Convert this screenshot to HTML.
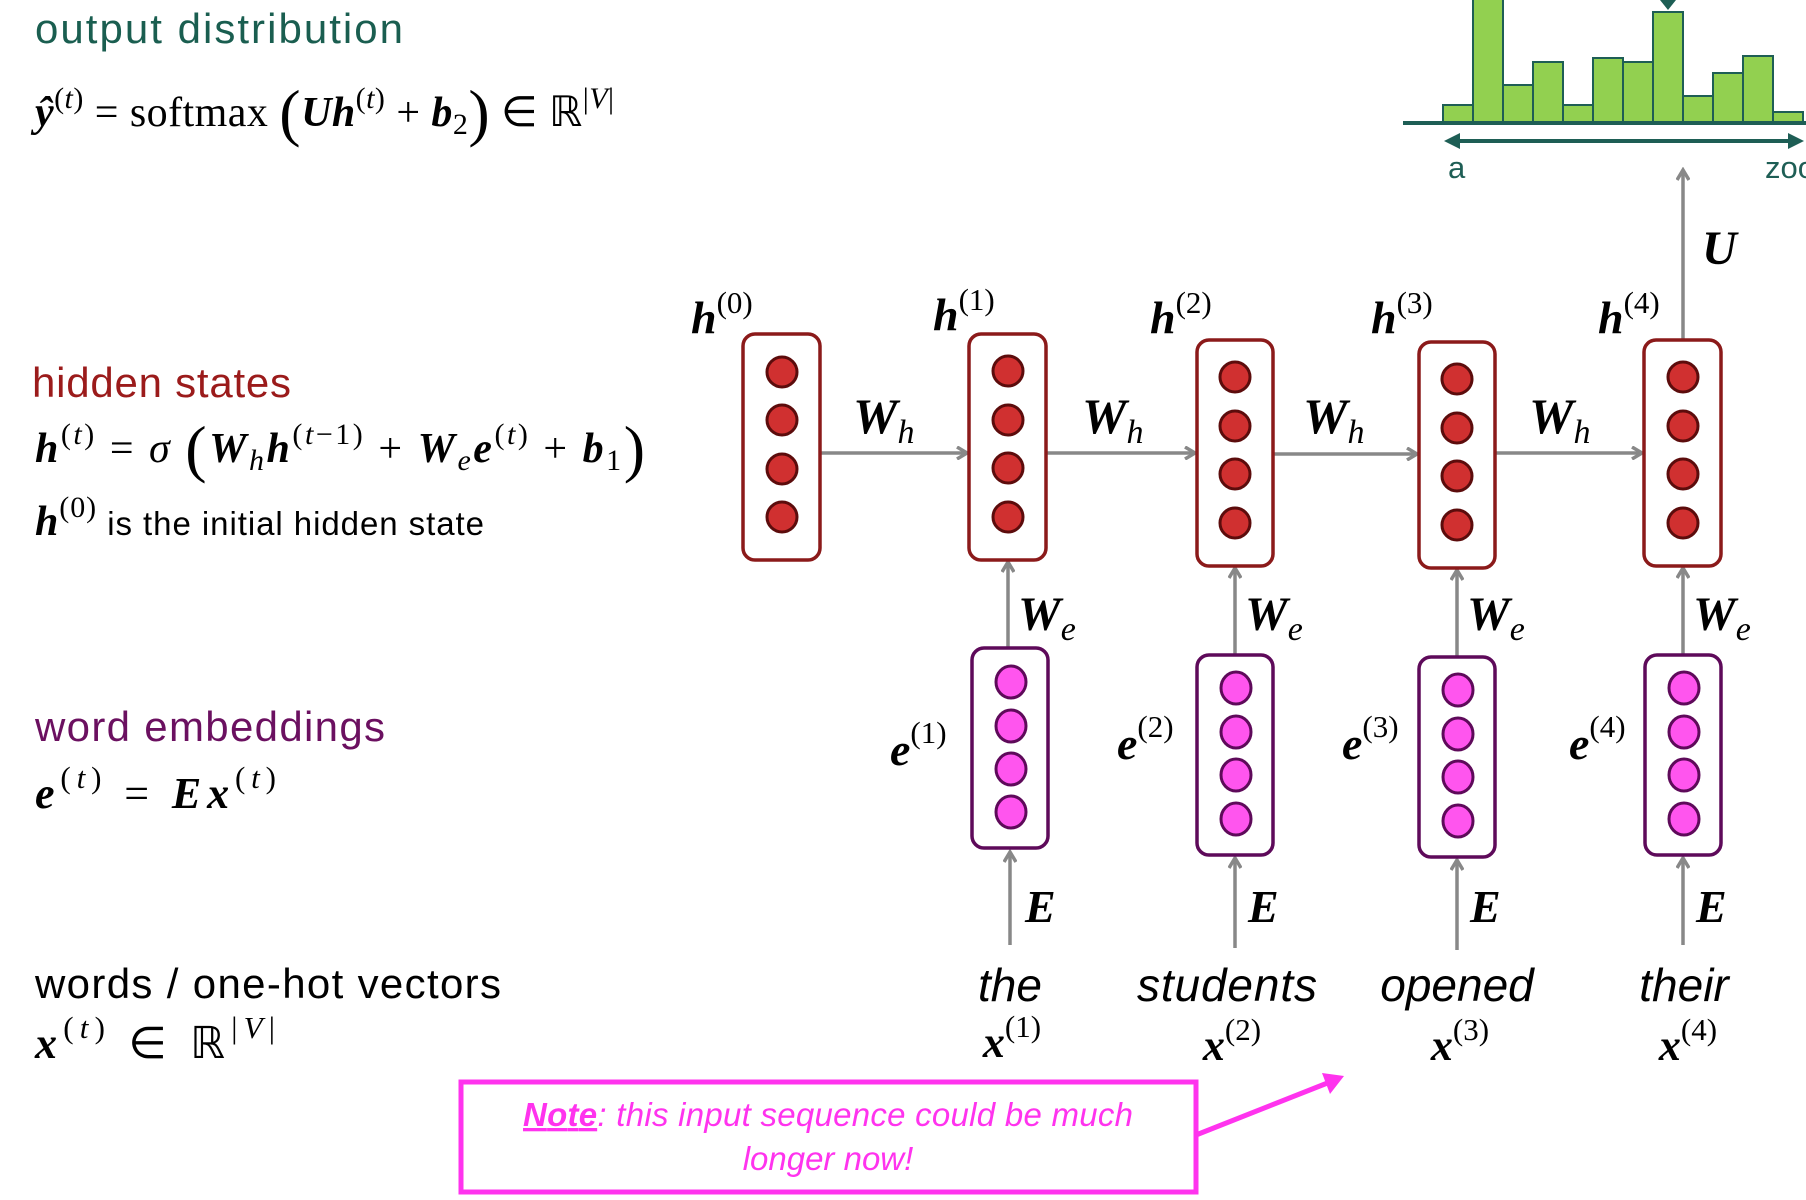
<!DOCTYPE html>
<html><head><meta charset="utf-8"><style>
html,body{margin:0;padding:0;background:#fff;width:1806px;height:1200px;overflow:hidden}
svg{display:block}
.m{font-family:"Liberation Serif",serif;font-weight:bold;font-style:italic}
.r{font-family:"Liberation Serif",serif;font-weight:normal;font-style:normal}
.ri{font-family:"Liberation Serif",serif;font-weight:normal;font-style:italic}
.s{font-family:"Liberation Sans",sans-serif}
</style></head><body>
<svg width="1806" height="1200" viewBox="0 0 1806 1200" xmlns="http://www.w3.org/2000/svg">
<defs>
<marker id="ah" markerWidth="14" markerHeight="14" refX="11" refY="7" orient="auto" markerUnits="userSpaceOnUse">
<path d="M1,1 L11,7 L1,13" fill="none" stroke="#888" stroke-width="3.5"/>
</marker>
</defs>

<!-- left text -->
<text x="35" y="43" class="s" font-size="42" fill="#1a5e50" textLength="368">output distribution</text>
<text x="35" y="126" font-size="42" textLength="579"><tspan class="m">ŷ</tspan><tspan class="r" font-size="30" dy="-18">(</tspan><tspan class="ri" font-size="30">t</tspan><tspan class="r" font-size="30">)</tspan><tspan class="r" dy="18"> = softmax </tspan><tspan class="r" font-size="64" dy="8">(</tspan><tspan class="m" dy="-8">Uh</tspan><tspan class="r" font-size="30" dy="-18">(</tspan><tspan class="ri" font-size="30">t</tspan><tspan class="r" font-size="30">)</tspan><tspan class="r" dy="18"> + </tspan><tspan class="m">b</tspan><tspan class="r" font-size="30" dy="8">2</tspan><tspan class="r" font-size="64" dy="0">)</tspan><tspan class="r" dy="-8"> ∈ ℝ</tspan><tspan class="r" font-size="30" dy="-18">|</tspan><tspan class="ri" font-size="30">V</tspan><tspan class="r" font-size="30">|</tspan></text>

<text x="32" y="397" class="s" font-size="42" fill="#9b1b1b" textLength="259">hidden states</text>
<text x="35" y="462" font-size="42" textLength="610"><tspan class="m">h</tspan><tspan class="r" font-size="30" dy="-18">(</tspan><tspan class="ri" font-size="30">t</tspan><tspan class="r" font-size="30">)</tspan><tspan class="r" dy="18"> = </tspan><tspan class="ri">σ </tspan><tspan class="r" font-size="64" dy="8">(</tspan><tspan class="m" dy="-8">W</tspan><tspan class="ri" font-size="30" dy="8">h</tspan><tspan class="m" dy="-8">h</tspan><tspan class="r" font-size="30" dy="-18">(</tspan><tspan class="ri" font-size="30">t</tspan><tspan class="r" font-size="30">−1)</tspan><tspan class="r" dy="18"> + </tspan><tspan class="m">W</tspan><tspan class="ri" font-size="30" dy="8">e</tspan><tspan class="m" dy="-8">e</tspan><tspan class="r" font-size="30" dy="-18">(</tspan><tspan class="ri" font-size="30">t</tspan><tspan class="r" font-size="30">)</tspan><tspan class="r" dy="18"> + </tspan><tspan class="m">b</tspan><tspan class="r" font-size="30" dy="8">1</tspan><tspan class="r" font-size="64" dy="0">)</tspan></text>
<text x="35" y="535" font-size="42" textLength="449"><tspan class="m">h</tspan><tspan class="r" font-size="30" dy="-18">(0)</tspan><tspan class="s" font-size="33" dy="18"> is the initial hidden state</tspan></text>

<text x="35" y="741" class="s" font-size="42" fill="#6b1060" textLength="350">word embeddings</text>
<text x="35" y="808" font-size="44" textLength="241"><tspan class="m">e</tspan><tspan class="r" font-size="31" dy="-20">(</tspan><tspan class="ri" font-size="31">t</tspan><tspan class="r" font-size="31">)</tspan><tspan class="r" dy="20"> = </tspan><tspan class="m">Ex</tspan><tspan class="r" font-size="31" dy="-20">(</tspan><tspan class="ri" font-size="31">t</tspan><tspan class="r" font-size="31">)</tspan></text>

<text x="35" y="998" class="s" font-size="42" fill="#000" textLength="466">words / one-hot vectors</text>
<text x="35" y="1058" font-size="44" textLength="240"><tspan class="m">x</tspan><tspan class="r" font-size="31" dy="-20">(</tspan><tspan class="ri" font-size="31">t</tspan><tspan class="r" font-size="31">)</tspan><tspan class="r" dy="20"> ∈ ℝ</tspan><tspan class="r" font-size="31" dy="-20">|</tspan><tspan class="ri" font-size="31">V</tspan><tspan class="r" font-size="31">|</tspan></text>

<!-- histogram -->
<g fill="#92d050" stroke="#1e5e55" stroke-width="2">
<rect x="1443" y="105" width="30" height="18"/>
<rect x="1473" y="-5" width="30" height="128"/>
<rect x="1503" y="85" width="30" height="38"/>
<rect x="1533" y="62" width="30" height="61"/>
<rect x="1563" y="105" width="30" height="18"/>
<rect x="1593" y="58" width="30" height="65"/>
<rect x="1623" y="62" width="30" height="61"/>
<rect x="1653" y="12" width="30" height="111"/>
<rect x="1683" y="96" width="30" height="27"/>
<rect x="1713" y="73" width="30" height="50"/>
<rect x="1743" y="56" width="30" height="67"/>
<rect x="1773" y="112" width="30" height="11"/>
</g>
<line x1="1403" y1="123" x2="1806" y2="123" stroke="#1e5e55" stroke-width="4"/>
<polygon points="1660,0 1676,0 1668,10" fill="#1e5e55"/>
<line x1="1455" y1="141" x2="1793" y2="141" stroke="#1e5e55" stroke-width="4"/>
<polygon points="1444,141 1460,133 1460,149" fill="#1e5e55"/>
<polygon points="1804,141 1788,133 1788,149" fill="#1e5e55"/>
<text x="1448" y="178" class="s" font-size="31" fill="#1e5e55">a</text>
<text x="1765" y="178" class="s" font-size="31" fill="#1e5e55">zoo</text>

<!-- U arrow -->
<line x1="1683" y1="340" x2="1683" y2="170" stroke="#888" stroke-width="3.5" marker-end="url(#ah)"/>
<text x="1702" y="264" class="m" font-size="48">U</text>

<!-- horizontal arrows -->
<g stroke="#888" stroke-width="3.5" marker-end="url(#ah)">
<line x1="820" y1="453" x2="967" y2="453"/>
<line x1="1046" y1="453" x2="1195" y2="453"/>
<line x1="1273" y1="454" x2="1417" y2="454"/>
<line x1="1495" y1="453" x2="1642" y2="453"/>
</g>
<g class="m" font-size="50">
<text x="853" y="433">W<tspan class="ri" font-size="34" dy="10">h</tspan></text>
<text x="1082" y="433">W<tspan class="ri" font-size="34" dy="10">h</tspan></text>
<text x="1303" y="433">W<tspan class="ri" font-size="34" dy="10">h</tspan></text>
<text x="1529" y="433">W<tspan class="ri" font-size="34" dy="10">h</tspan></text>
</g>

<!-- vertical We arrows -->
<g stroke="#888" stroke-width="3.5" marker-end="url(#ah)">
<line x1="1008" y1="648" x2="1008" y2="562"/>
<line x1="1235" y1="655" x2="1235" y2="568"/>
<line x1="1457" y1="657" x2="1457" y2="570"/>
<line x1="1683" y1="655" x2="1683" y2="568"/>
</g>
<g class="m" font-size="48">
<text x="1018" y="630">W<tspan class="ri" font-size="34" dy="10">e</tspan></text>
<text x="1245" y="630">W<tspan class="ri" font-size="34" dy="10">e</tspan></text>
<text x="1467" y="630">W<tspan class="ri" font-size="34" dy="10">e</tspan></text>
<text x="1693" y="630">W<tspan class="ri" font-size="34" dy="10">e</tspan></text>
</g>

<!-- E arrows -->
<g stroke="#888" stroke-width="3.5" marker-end="url(#ah)">
<line x1="1010" y1="945" x2="1010" y2="852"/>
<line x1="1235" y1="948" x2="1235" y2="858"/>
<line x1="1457" y1="950" x2="1457" y2="860"/>
<line x1="1683" y1="945" x2="1683" y2="858"/>
</g>
<g class="m" font-size="46">
<text x="1025" y="922">E</text>
<text x="1248" y="922">E</text>
<text x="1470" y="922">E</text>
<text x="1696" y="922">E</text>
</g>

<!-- h boxes -->
<g fill="#fff" stroke="#8b1a1a" stroke-width="3.5">
<rect x="743" y="334" width="77" height="226" rx="12"/>
<rect x="969" y="334" width="77" height="226" rx="12"/>
<rect x="1197" y="340" width="76" height="226" rx="12"/>
<rect x="1419" y="342" width="76" height="226" rx="12"/>
<rect x="1644" y="340" width="77" height="226" rx="12"/>
</g>
<g fill="#d03030" stroke="#5c0c0c" stroke-width="3">
<circle cx="782" cy="372" r="15"/><circle cx="782" cy="420" r="15"/><circle cx="782" cy="469" r="15"/><circle cx="782" cy="517" r="15"/>
<circle cx="1008" cy="371" r="15"/><circle cx="1008" cy="420" r="15"/><circle cx="1008" cy="468" r="15"/><circle cx="1008" cy="517" r="15"/>
<circle cx="1235" cy="377" r="15"/><circle cx="1235" cy="426" r="15"/><circle cx="1235" cy="474" r="15"/><circle cx="1235" cy="523" r="15"/>
<circle cx="1457" cy="379" r="15"/><circle cx="1457" cy="428" r="15"/><circle cx="1457" cy="476" r="15"/><circle cx="1457" cy="525" r="15"/>
<circle cx="1683" cy="377" r="15"/><circle cx="1683" cy="426" r="15"/><circle cx="1683" cy="474" r="15"/><circle cx="1683" cy="523" r="15"/>
</g>
<g font-size="46">
<text x="691" y="333"><tspan class="m">h</tspan><tspan class="r" font-size="31" dy="-20">(0)</tspan></text>
<text x="933" y="330"><tspan class="m">h</tspan><tspan class="r" font-size="31" dy="-20">(1)</tspan></text>
<text x="1150" y="333"><tspan class="m">h</tspan><tspan class="r" font-size="31" dy="-20">(2)</tspan></text>
<text x="1371" y="333"><tspan class="m">h</tspan><tspan class="r" font-size="31" dy="-20">(3)</tspan></text>
<text x="1598" y="333"><tspan class="m">h</tspan><tspan class="r" font-size="31" dy="-20">(4)</tspan></text>
</g>

<!-- e boxes -->
<g fill="#fff" stroke="#5e0a5a" stroke-width="3.5">
<rect x="972" y="648" width="76" height="200" rx="12"/>
<rect x="1197" y="655" width="76" height="200" rx="12"/>
<rect x="1419" y="657" width="76" height="200" rx="12"/>
<rect x="1645" y="655" width="76" height="200" rx="12"/>
</g>
<g fill="#ff55ee" stroke="#5e0a5a" stroke-width="3">
<ellipse cx="1011" cy="682" rx="15" ry="16"/><ellipse cx="1011" cy="726" rx="15" ry="16"/><ellipse cx="1011" cy="769" rx="15" ry="16"/><ellipse cx="1011" cy="812" rx="15" ry="16"/>
<ellipse cx="1236" cy="688" rx="15" ry="16"/><ellipse cx="1236" cy="732" rx="15" ry="16"/><ellipse cx="1236" cy="775" rx="15" ry="16"/><ellipse cx="1236" cy="819" rx="15" ry="16"/>
<ellipse cx="1458" cy="690" rx="15" ry="16"/><ellipse cx="1458" cy="734" rx="15" ry="16"/><ellipse cx="1458" cy="777" rx="15" ry="16"/><ellipse cx="1458" cy="821" rx="15" ry="16"/>
<ellipse cx="1684" cy="688" rx="15" ry="16"/><ellipse cx="1684" cy="732" rx="15" ry="16"/><ellipse cx="1684" cy="775" rx="15" ry="16"/><ellipse cx="1684" cy="819" rx="15" ry="16"/>
</g>
<g font-size="46">
<text x="890" y="765"><tspan class="m">e</tspan><tspan class="r" font-size="31" dy="-22">(1)</tspan></text>
<text x="1117" y="759"><tspan class="m">e</tspan><tspan class="r" font-size="31" dy="-22">(2)</tspan></text>
<text x="1342" y="759"><tspan class="m">e</tspan><tspan class="r" font-size="31" dy="-22">(3)</tspan></text>
<text x="1569" y="759"><tspan class="m">e</tspan><tspan class="r" font-size="31" dy="-22">(4)</tspan></text>
</g>

<!-- words -->
<g class="s" font-size="46" font-style="italic" text-anchor="middle">
<text x="1010" y="1001">the</text>
<text x="1227" y="1001" textLength="180">students</text>
<text x="1457" y="1001">opened</text>
<text x="1684" y="1001">their</text>
</g>
<g font-size="44" text-anchor="middle">
<text x="1012" y="1057"><tspan class="m">x</tspan><tspan class="r" font-size="31" dy="-20">(1)</tspan></text>
<text x="1232" y="1060"><tspan class="m">x</tspan><tspan class="r" font-size="31" dy="-20">(2)</tspan></text>
<text x="1460" y="1060"><tspan class="m">x</tspan><tspan class="r" font-size="31" dy="-20">(3)</tspan></text>
<text x="1688" y="1060"><tspan class="m">x</tspan><tspan class="r" font-size="31" dy="-20">(4)</tspan></text>
</g>

<!-- note -->
<rect x="461" y="1082" width="735" height="110" fill="#fff" stroke="#ff33ee" stroke-width="5"/>
<line x1="1196" y1="1135" x2="1330" y2="1082" stroke="#ff33ee" stroke-width="5"/>
<polygon points="1344,1076 1322,1073 1330,1094" fill="#ff33ee"/>
<g class="s" font-size="33" font-style="italic" fill="#ff33ee" text-anchor="middle">
<text x="828" y="1126" textLength="610"><tspan font-weight="bold" text-decoration="underline">Note</tspan>: this input sequence could be much</text>
<text x="828" y="1170">longer now!</text>
</g>
</svg>
</body></html>
